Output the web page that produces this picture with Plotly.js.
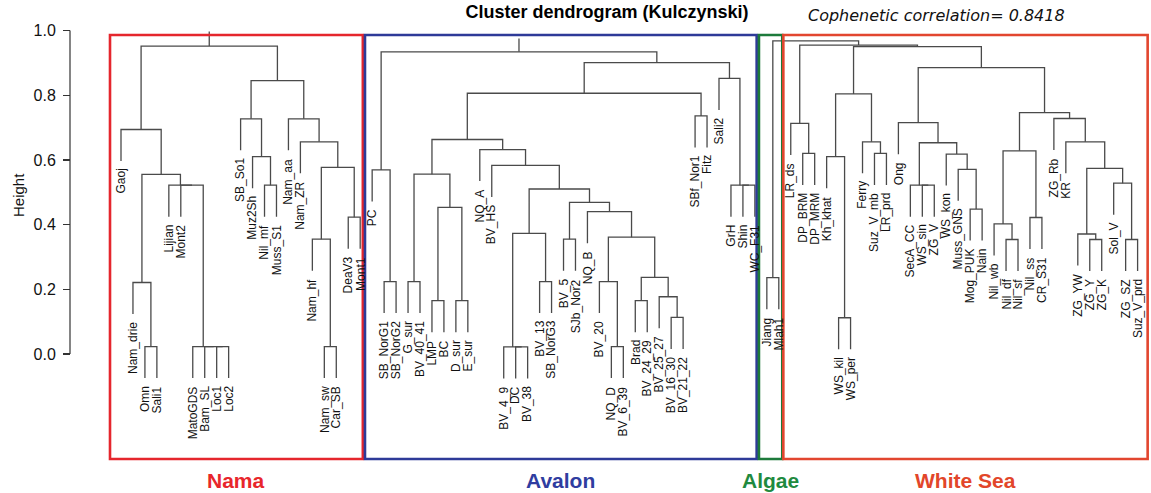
<!DOCTYPE html>
<html><head><meta charset="utf-8">
<script src="https://cdn.plot.ly/plotly-3.0.1.min.js"></script>
<style>html,body{margin:0;padding:0;background:#fff}</style>
</head><body><div id="chart" style="width:1151px;height:493px"></div>
<script>
// ---- data ----
const leafLabels = [
 'Gaoj','Nam_drie','Omn','Sali1','Lijian','Mont2','MatoGDS','Bam_SL','Loc1','Loc2',
 'SB_So1','Muz2Sh','Nil_mf','Muss_S1','Nam_aa','Nam_ZR','Nam_hf','Nam_sw','Car_SB','DeaV3','Mont1',
 'PC','SB_NorG1','SB_NorG2','G_sur','BV_40_41','LMP','BC','D_sur','E_sur','NQ_A','BV_HS',
 'BV_4_9','DC','BV_38','BV_13','SB_NorG3','BV_5','SJb_Nor2','NQ_B','BV_20','NQ_D','BV_6_39',
 'Brad','BV_24_29','BV_25_27','BV_16_30','BV_21_22','SBf_Nor1','Fitz','Sali2','GrH','Shin','WC_F31',
 'Jiang','Mlah1',
 'LR_ds','DP_BRM','DP_MRM','Kh_khat','WS_kil','WS_per','Ferry','Suz_V_mb','LR_prd','Ong',
 'SecA_CC','WS_sin','ZG_V','WS_kon','Muss_GNS','Mog_PUK','Nain','Nil_wb','Nil_df','Nil_sf',
 'Nil_ss','CR_S31','ZG_Rb','KR','ZG_YW','ZG_Y','ZG_K','Sol_V','ZG_SZ','Suz_V_prd'
];
// merges: a string is a leaf, a number refers to an earlier merge (0-based)
const mergeA = [
 'Omn','Nam_drie','Loc1','Bam_SL','MatoGDS','Mont2','Lijian',1,'Gaoj','Nil_mf',
 'Muz2Sh','SB_So1','Nam_sw','Nam_hf','DeaV3',13,'Nam_ZR','Nam_aa',11,8,
 'SB_NorG1','PC','G_sur','LMP','D_sur',23,22,'DC','BV_4_9','BV_13',
 28,'BV_5','NQ_D','BV_20','Brad','BV_16_30','BV_25_27',34,33,'NQ_B',
 31,30,'BV_HS','NQ_A',26,'SBf_Nor1',44,'Shin','GrH','Sali2',
 46,21,
 'Jiang',
 'DP_BRM','LR_ds','WS_kil','Kh_khat','Suz_V_mb','Ferry',56,'WS_sin','SecA_CC','Mog_PUK','Muss_GNS',
 'WS_kon',61,'Ong','Nil_df','Nil_wb','Nil_ss',68,'ZG_Y','ZG_YW','ZG_SZ',
 'Sol_V',72,'KR','ZG_Rb',70,66,59,54,52,51,
 19
];
const mergeB = [
 'Sali1',0,'Loc2',2,3,4,5,6,7,'Muss_S1',
 9,10,'Car_SB',12,'Mont1',14,15,16,17,18,
 'SB_NorG2',20,'BV_40_41','BC','E_sur',24,25,'BV_38',27,'SB_NorG3',
 29,'SJb_Nor2','BV_6_39',32,'BV_24_29','BV_21_22',35,36,37,38,
 39,40,41,42,43,'Fitz',45,'WC_F31',47,48,
 49,50,
 'Mlah1',
 'DP_MRM',53,'WS_per',55,'LR_prd',57,58,'ZG_V',60,'Nain',
 62,63,64,65,'Nil_sf',67,'CR_S31',69,'ZG_K',71,
 'Suz_V_prd',73,74,75,76,77,78,79,80,81,
 83
];
const mergeHeight = [
 0.023,0.221,0.023,0.023,0.023,0.522,0.522,0.555,0.694,0.522,
 0.610,0.727,0.023,0.355,0.423,0.577,0.656,0.727,0.845,0.952,
 0.224,0.569,0.224,0.165,0.165,0.453,0.556,0.022,0.022,0.224,
 0.373,0.355,0.023,0.224,0.165,0.113,0.177,0.237,0.361,0.440,
 0.469,0.510,0.583,0.632,0.663,0.736,0.806,0.522,0.522,0.852,
 0.901,0.934,
 0.236,
 0.620,0.713,0.112,0.610,0.620,0.656,0.804,0.522,0.522,0.448,
 0.571,0.618,0.653,0.715,0.354,0.402,0.422,0.628,0.354,0.371,0.354,
 0.528,0.574,0.656,0.728,0.746,0.885,0.950,0.955,0.968,0.975,
 0.997
];
const groupNames  = ['Nama','Avalon','Algae','White Sea'];
const groupFirst  = ['Gaoj','PC','Jiang','LR_ds'];
const groupLast   = ['Mont1','WC_F31','Mlah1','Suz_V_prd'];
const yTickVals = [0, 0.2, 0.4, 0.6, 0.8, 1.0];
const yTickText = ['0.0','0.2','0.4','0.6','0.8','1.0'];
const titleText = 'Cluster dendrogram (Kulczynski)';
const copheneticText = 'Cophenetic correlation= 0.8418';

// ---- styles ----
const groupBoxColors  = ['#e5262d','#2e3a98','#1d7a3b','#e2462f'];
const groupTextColors = ['#e8262b','#2f3da0','#1f8a40','#e2462a'];
const boxPadLeft  = [0.92, 0.60, 0.66, 0.62];
const boxPadRight = [0.22, 0.15, 0.29, 0.84];
const boxTop = 0.986, boxBottom = -0.3246, groupLabelY = -0.3895;
const FONT = 'Liberation Sans, Arial, Helvetica, sans-serif';

// ---- build dendrogram ----
const idx = {}; leafLabels.forEach((l, i) => idx[l] = i);
const hang = 0.1 * (Math.max(...mergeHeight) - Math.min(...mergeHeight));
const nodeX = [];
const leafTip = {};
const xs = [], ys = [];
function child(c, h) {
  if (typeof c === 'number') return [nodeX[c], mergeHeight[c]];
  leafTip[c] = h - hang;
  return [idx[c], h - hang];
}
for (let i = 0; i < mergeHeight.length; i++) {
  const h = mergeHeight[i];
  const [xa, ya] = child(mergeA[i], h);
  const [xb, yb] = child(mergeB[i], h);
  nodeX[i] = (xa + xb) / 2;
  xs.push(xa, xa, xb, xb, null);
  ys.push(ya, h, h, yb, null);
}

const traces = [{
  x: xs, y: ys, type: 'scatter', mode: 'lines',
  line: {color: '#4a4a4a', width: 1.3}, hoverinfo: 'skip', showlegend: false
}];

const annotations = leafLabels.map(l => ({
  x: idx[l], y: leafTip[l], xref: 'x', yref: 'y', text: l, showarrow: false,
  textangle: -90, xanchor: 'center', yanchor: 'top', yshift: -6,
  font: {family: FONT, size: 12, color: '#111'}
}));

const shapes = [];
groupNames.forEach((g, k) => {
  const x0 = idx[groupFirst[k]] - boxPadLeft[k];
  const x1 = idx[groupLast[k]] + boxPadRight[k];
  shapes.push({type: 'rect', xref: 'x', yref: 'y', x0, x1, y0: boxBottom, y1: boxTop,
    line: {color: groupBoxColors[k], width: 2.6}, fillcolor: 'rgba(0,0,0,0)', layer: 'above'});
  annotations.push({x: (x0 + x1) / 2, y: groupLabelY, xref: 'x', yref: 'y', text: '<b>' + g + '</b>',
    showarrow: false, xanchor: 'center', yanchor: 'middle',
    font: {family: FONT, size: 21, color: groupTextColors[k]}});
});

const axisPos = 70 / 1151;
shapes.push({type: 'line', xref: 'paper', yref: 'y', x0: axisPos, x1: axisPos,
  y0: yTickVals[0], y1: yTickVals[yTickVals.length - 1], line: {color: '#333', width: 1.2}});

annotations.push({x: 18 / 1151, y: 0.4915, xref: 'paper', yref: 'y', text: 'Height',
  textangle: -90, showarrow: false, xanchor: 'center', yanchor: 'middle',
  font: {family: FONT, size: 15, color: '#111'}});
annotations.push({x: 936.5 / 1151, y: 1 - 15 / 493, xref: 'paper', yref: 'paper',
  text: '<i>' + copheneticText + '</i>', showarrow: false, xanchor: 'center', yanchor: 'middle',
  font: {family: 'DejaVu Sans, sans-serif', size: 16, color: '#111'}});

const pxPerLeaf = 11.96, firstLeafPx = 121;
const y0px = 354, pxPerUnit = 323.5;
const layout = {
  width: 1151, height: 493,
  margin: {l: 0, r: 0, t: 0, b: 0, pad: 0},
  paper_bgcolor: '#fff', plot_bgcolor: '#fff',
  showlegend: false,
  title: {text: '<b>' + titleText + '</b>', x: 607 / 1151, xanchor: 'center',
          y: 1 - 12 / 493, yanchor: 'middle', font: {family: FONT, size: 18, color: '#000'}},
  xaxis: {range: [-firstLeafPx / pxPerLeaf, (1151 - firstLeafPx) / pxPerLeaf],
          visible: false, showgrid: false, zeroline: false, fixedrange: true},
  yaxis: {range: [(y0px - 493) / pxPerUnit, y0px / pxPerUnit],
          anchor: 'free', position: axisPos, side: 'left',
          tickvals: yTickVals, ticktext: yTickText, ticks: 'outside', ticklen: 7,
          tickwidth: 1.2, tickcolor: '#333', showline: false, showgrid: false, zeroline: false,
          ticklabelstandoff: 4,
          tickfont: {family: FONT, size: 16, color: '#111'}, fixedrange: true},
  shapes, annotations
};
Plotly.newPlot('chart', traces, layout, {displayModeBar: false, staticPlot: true});
</script></body></html>
